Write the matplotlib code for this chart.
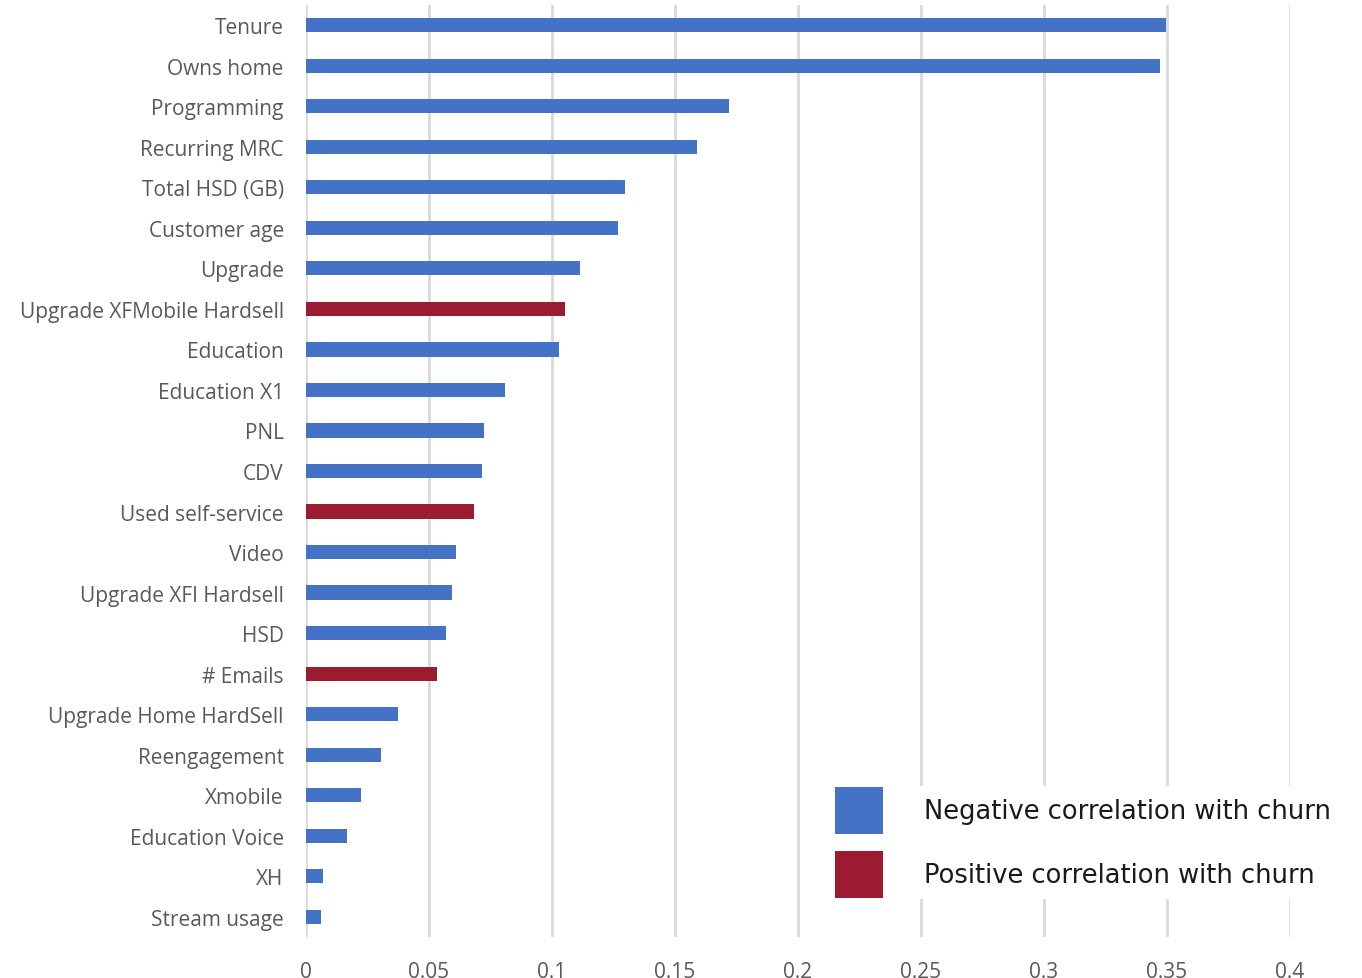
import matplotlib
matplotlib.use('Agg')
import matplotlib.pyplot as plt
from matplotlib.patches import Rectangle

# dados
features = ['Tenure', 'Owns home', 'Programming', 'Recurring MRC', 'Total HSD (GB)',
            'Customer age', 'Upgrade', 'Upgrade XFMobile Hardsell', 'Education',
            'Education X1', 'PNL', 'CDV', 'Used self-service', 'Video',
            'Upgrade XFI Hardsell', 'HSD', '# Emails', 'Upgrade Home HardSell',
            'Reengagement', 'Xmobile', 'Education Voice', 'XH', 'Stream usage']
importance = [0.3496, 0.3472, 0.172, 0.159, 0.1297, 0.1268, 0.1114, 0.1053, 0.1028,
              0.0809, 0.0724, 0.0715, 0.0683, 0.061, 0.0593, 0.0569, 0.0533, 0.0374,
              0.0305, 0.0224, 0.0167, 0.0069, 0.0061]
positive = ['Upgrade XFMobile Hardsell', 'Used self-service', '# Emails']
xticks = [0, 0.05, 0.1, 0.15, 0.2, 0.25, 0.3, 0.35, 0.4]
xtick_labels = ['0', '0.05', '0.1', '0.15', '0.2', '0.25', '0.3', '0.35', '0.4']

blue = '#4472C4'
red = '#9B1C31'
colors = [red if f in positive else blue for f in features]

fig = plt.figure(figsize=(13.62, 9.79), dpi=100)
ax = fig.add_axes([306/1362, 41/979, 984/1362, 932/979])

ax.barh(range(len(features)), importance, height=0.35, color=colors, zorder=3)
ax.set_ylim(len(features) - 0.5, -0.5)
ax.set_xlim(0, 0.4)
ax.set_yticks(range(len(features)))
ax.set_yticklabels(features, fontsize=15, color='#595959', family='Open Sans')
ax.set_xticks(xticks)
ax.set_xticklabels(xtick_labels, fontsize=15, color='#595959', family='Open Sans')
ax.tick_params(length=0, pad=16, axis='y')
ax.tick_params(length=0, pad=17, axis='x')
ax.grid(axis='x', color='#D9D9D9', linewidth=2, zorder=0)
for s in ax.spines.values():
    s.set_visible(False)

# legenda manual
fig.patches.append(Rectangle((826/1362, (979-900)/979), 530/1362, 113/979,
                             transform=fig.transFigure, facecolor='white', edgecolor='none', zorder=5))
fig.patches.append(Rectangle((835/1362, (979-835)/979), 48/1362, 47/979,
                             transform=fig.transFigure, facecolor=blue, edgecolor='none', zorder=6))
fig.patches.append(Rectangle((835/1362, (979-899)/979), 48/1362, 47/979,
                             transform=fig.transFigure, facecolor=red, edgecolor='none', zorder=6))
fig.text(924/1362, (979-812)/979, 'Negative correlation with churn', fontsize=18.5,
         va='center', ha='left', color='#1a1a1a', family='DejaVu Sans', zorder=7)
fig.text(924/1362, (979-876)/979, 'Positive correlation with churn', fontsize=18.5,
         va='center', ha='left', color='#1a1a1a', family='DejaVu Sans', zorder=7)

fig.savefig('out.png', dpi=100)
